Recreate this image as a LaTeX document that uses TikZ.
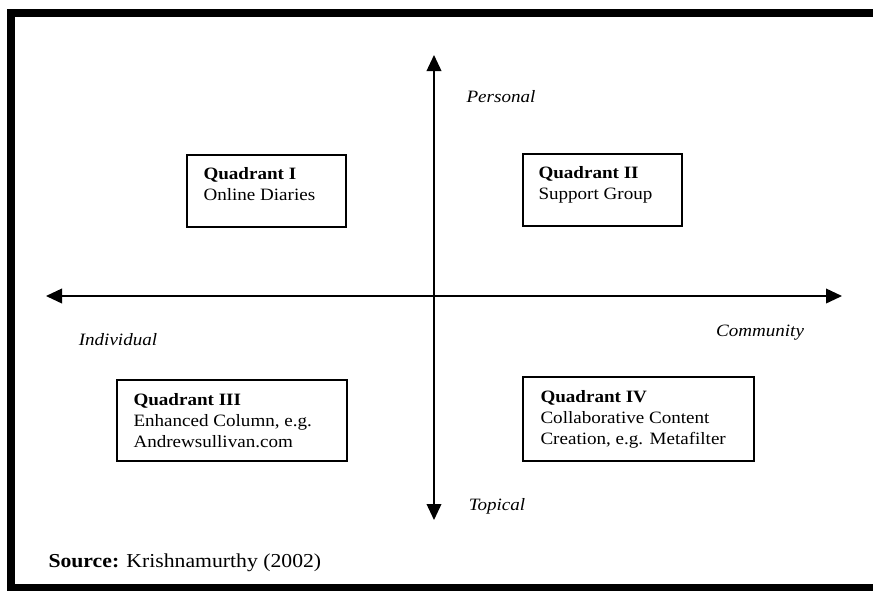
\documentclass[tikz,border=0pt]{standalone}
\usepackage{fontspec}
\setmainfont{Liberation Serif}[FakeStretch=1.1]
\usetikzlibrary{arrows.meta}

\tikzset{every picture/.style={line width=0.75pt}}
\tikzset{
  quadbox/.style={draw, line width=1.2pt},
  quadtext/.style={inner sep=0pt, anchor=north west, align=left,
    font=\fontsize{13}{15.8}\selectfont},
  axislabel/.style={inner sep=0pt, font=\fontsize{13}{15.8}\selectfont\itshape},
  axis/.style={line width=1.2pt,
    {Triangle[length=12pt,width=11pt]}-{Triangle[length=12pt,width=11pt]}},
}

\begin{document}
\begin{tikzpicture}[x=0.75pt,y=0.75pt,yscale=-1,xscale=1]
	\useasboundingbox (0,0) rectangle (873,590);
	\clip (0,0) rectangle (873,590);
	
	%Shape: Frame
	\draw [line width=6pt] (885,588) -- (11,588) -- (11,13) -- (885,13) ;
	
	%Axis ends
	\coordinate (top) at (434,55);
	\coordinate (bottom) at (434,520);
	\coordinate (left) at (46,296);
	\coordinate (right) at (842,296);
	
	%Straight Lines: vertical axis
	\draw [axis] (bottom) -- (top) ;
	%Straight Lines: horizontal axis
	\draw [axis] (left) -- (right) ;
	
	%Shape: Rectangle
	\draw [quadbox] (187,155) rectangle (346,227) ;
	%Shape: Rectangle
	\draw [quadbox] (523,154) rectangle (682,226) ;
	%Shape: Rectangle
	\draw [quadbox] (117,380) rectangle (347,461) ;
	%Shape: Rectangle
	\draw [quadbox] (523,377) rectangle (754,461) ;
	
	% Text Node
	\node [quadtext] (q1) at (203,167) {\textbf{Quadrant I}\\Online Diaries};
	% Text Node
	\node [quadtext] (q2) at (538,166) {\textbf{Quadrant II}\\Support Group};
	% Text Node
	\node [quadtext] (q3) at (133,393) {\textbf{Quadrant III}\\Enhanced Column, e.g.\\Andrewsullivan.com};
	% Text Node
	\node [quadtext] (q4) at (540,390) {\textbf{Quadrant IV}\\Collaborative Content\\Creation, e.g. Metafilter};
	
	% Text Node
	\node [axislabel] (personal) at (501,97) {Personal};
	% Text Node
	\node [axislabel] (individual) at (118,340) {Individual};
	% Text Node
	\node [axislabel] (community) at (760,333) {Community};
	% Text Node
	\node [axislabel] (topical) at (497,506) {Topical};
	% Text Node
	\node [inner sep=0pt, anchor=base west, font=\fontsize{14.8}{16}\selectfont] (source) at (48,567) {\textbf{Source:} Krishnamurthy (2002)};
	
\end{tikzpicture}
\end{document}
